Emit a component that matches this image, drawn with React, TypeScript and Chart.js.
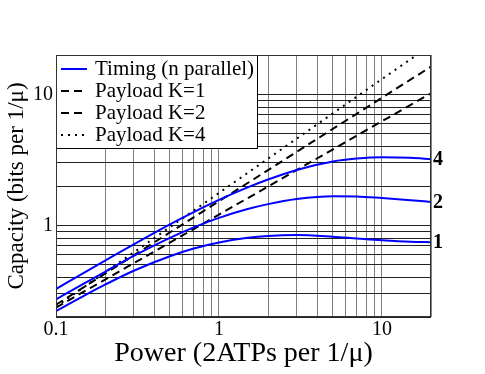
import React, { useEffect, useRef } from 'react';
import { Chart, registerables } from 'chart.js';

Chart.register(...registerables);

// ---- Data ----
const powerPoints = [0.1, 0.15, 0.2, 0.3, 0.5, 0.7, 1, 1.5, 2, 3, 5, 7, 10, 15, 20];
const timingN4 = [0.327, 0.438, 0.538, 0.718, 1.02, 1.265, 1.567, 1.95, 2.24, 2.65, 3.08, 3.24, 3.32, 3.28, 3.2];
const timingN2 = [0.273, 0.362, 0.443, 0.585, 0.804, 0.966, 1.143, 1.333, 1.454, 1.589, 1.671, 1.665, 1.62, 1.56, 1.51];
const timingN1 = [0.222, 0.293, 0.353, 0.451, 0.582, 0.666, 0.741, 0.804, 0.832, 0.845, 0.82, 0.795, 0.77, 0.75, 0.745];

const payloadPower = [0.1, 1, 10, 20];
const payloadK1 = [0.236, 1.21, 6.24, 10.2];
const payloadK2 = [0.248, 1.53, 9.44, 16.3];
const payloadK4 = [0.24, 1.77, 13.1, 23.8];

const curveLabels = ['4', '2', '1'];
const legendLabels = ['Timing (n parallel)', 'Payload K=1', 'Payload K=2', 'Payload K=4'];

const xTicks = [0.1, 0.2, 0.3, 0.4, 0.5, 0.6, 0.7, 0.8, 0.9, 1, 2, 3, 4, 5, 6, 7, 8, 9, 10, 20];
const yTicks = [0.2, 0.3, 0.4, 0.5, 0.6, 0.7, 0.8, 0.9, 1, 2, 3, 4, 5, 6, 7, 8, 9, 10, 20];
const xTickLabels = ['0.1', '1', '10'];
const yTickLabels = ['1', '10'];

const SERIF = "'Liberation Serif', 'Times New Roman', serif";

const toXY = (xs: number[], ys: number[]) => xs.map((x, i) => ({ x, y: ys[i] }));

const decorPlugin = {
  id: 'decor',
  afterDraw(chart: any) {
    const { ctx, chartArea: a } = chart;
    ctx.save();
    // right-hand curve labels
    ctx.fillStyle = '#000';
    ctx.font = `bold 20px ${SERIF}`;
    ctx.textAlign = 'left';
    ctx.textBaseline = 'middle';
    [0, 1, 2].forEach((di) => {
      const ds = chart.data.datasets[di];
      const last = ds.data[ds.data.length - 1];
      const py = chart.scales.y.getPixelForValue(last.y);
      ctx.fillText(curveLabels[di], a.right + 2, py + 1);
    });

    // legend box
    const lx = a.left;
    const ly = a.top;
    const lw = 201;
    const lh = 93;
    ctx.fillStyle = '#fff';
    ctx.fillRect(lx, ly, lw, lh);
    ctx.strokeStyle = '#000';
    ctx.lineWidth = 1;
    ctx.strokeRect(lx + 0.5, ly + 0.5, lw, lh);

    const legendDs = [0, 3, 4, 5];
    ctx.font = `21px ${SERIF}`;
    ctx.textBaseline = 'alphabetic';
    legendDs.forEach((di, i) => {
      const ds = chart.data.datasets[di];
      const base = ly + 20 + i * 22;
      const yy = base - 6;
      ctx.save();
      ctx.strokeStyle = ds.borderColor;
      ctx.lineWidth = ds.borderWidth;
      ctx.setLineDash(ds.borderDash || []);
      ctx.beginPath();
      ctx.moveTo(lx + 5, yy);
      ctx.lineTo(lx + 31, yy);
      ctx.stroke();
      ctx.restore();
      ctx.fillStyle = '#000';
      ctx.fillText(legendLabels[i], lx + 39, base);
    });

    // plot frame
    ctx.strokeStyle = '#333';
    ctx.lineWidth = 1;
    ctx.strokeRect(Math.round(a.left) + 0.5, Math.round(a.top) + 0.5, Math.round(a.right - a.left) - 1, Math.round(a.bottom - a.top) - 1);
    ctx.restore();
  },
};

export default function App() {
  const ref = useRef<HTMLCanvasElement | null>(null);

  useEffect(() => {
    if (!ref.current) return;
    const blue = '#0000ff';
    const chart = new Chart(ref.current, {
      type: 'line',
      data: {
        datasets: [
          { label: legendLabels[0], data: toXY(powerPoints, timingN4), borderColor: blue, borderWidth: 2, pointRadius: 0, cubicInterpolationMode: 'monotone' },
          { label: 'n=2', data: toXY(powerPoints, timingN2), borderColor: blue, borderWidth: 2, pointRadius: 0, cubicInterpolationMode: 'monotone' },
          { label: 'n=1', data: toXY(powerPoints, timingN1), borderColor: blue, borderWidth: 2, pointRadius: 0, cubicInterpolationMode: 'monotone' },
          { label: legendLabels[1], data: toXY(payloadPower, payloadK1), borderColor: '#000', borderWidth: 2, borderDash: [8, 5], pointRadius: 0 },
          { label: legendLabels[2], data: toXY(payloadPower, payloadK2), borderColor: '#000', borderWidth: 2, borderDash: [8, 5], pointRadius: 0 },
          { label: legendLabels[3], data: toXY(payloadPower, payloadK4), borderColor: '#000', borderWidth: 2, borderDash: [2, 5], pointRadius: 0 },
        ] as any,
      },
      options: {
        animation: false,
        responsive: false,
        layout: { padding: { left: 0, right: 54, top: 55, bottom: 0 } },
        plugins: { legend: { display: false }, tooltip: { enabled: false } },
        scales: {
          x: {
            type: 'logarithmic',
            min: 0.1,
            max: 20,
            afterBuildTicks: (s: any) => { s.ticks = xTicks.map((v) => ({ value: v })); },
            afterFit: (s: any) => { s.height = 57; },
            ticks: {
              autoSkip: false,
              maxRotation: 0,
              padding: 1,
              color: '#000',
              font: { family: SERIF, size: 20 },
              callback: (v: any) => (xTickLabels.includes(String(v)) ? String(v) : ''),
            },
            grid: { color: '#808080', lineWidth: 1, drawTicks: false },
            border: { display: false },
            title: { display: true, text: 'Power (2ATPs per 1/μ)', color: '#000', font: { family: SERIF, size: 28 }, padding: { top: 0, bottom: 4 } },
          },
          y: {
            type: 'logarithmic',
            min: 0.2,
            max: 20,
            afterBuildTicks: (s: any) => { s.ticks = yTicks.map((v) => ({ value: v })); },
            afterFit: (s: any) => { s.width = 56; },
            ticks: {
              autoSkip: false,
              padding: 3,
              color: '#000',
              font: { family: SERIF, size: 20 },
              callback: (v: any) => (yTickLabels.includes(String(v)) ? String(v) : ''),
            },
            grid: { color: '#222', lineWidth: 1, drawTicks: false },
            border: { display: false },
            title: { display: true, text: 'Capacity (bits per 1/μ)', color: '#000', font: { family: SERIF, size: 23 }, padding: { top: 3, bottom: 0 } },
          },
        },
      } as any,
      plugins: [decorPlugin],
    });
    return () => chart.destroy();
  }, []);

  return (
    <div style={{ position: 'absolute', left: 0, top: 0, width: 485, height: 374, background: '#fff' }}>
      <canvas ref={ref} width={485} height={374} style={{ display: 'block' }} />
    </div>
  );
}
